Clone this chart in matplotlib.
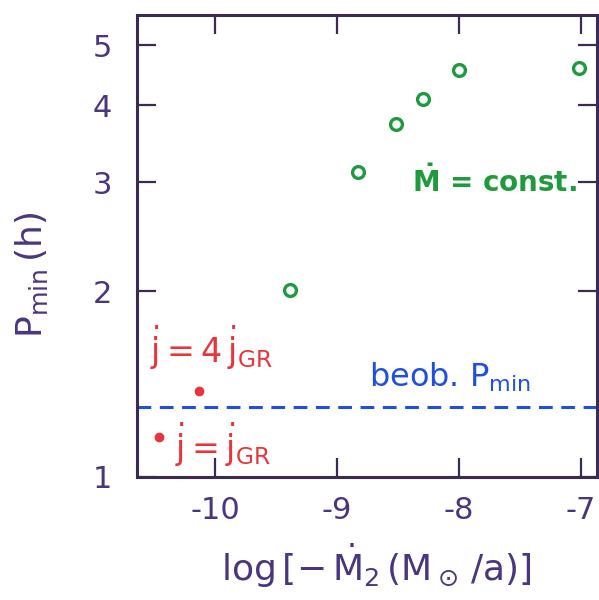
import matplotlib
matplotlib.use("Agg")
import matplotlib.pyplot as plt

# log(-dM2/dt) values and P_min in hours
mdot_const_x = [-9.39, -8.83, -8.52, -8.30, -8.00, -7.02]
mdot_const_p = [2.01, 3.12, 3.73, 4.09, 4.56, 4.59]
jdot_x = [-10.13, -10.46]          # j = 4 j_GR, j = j_GR
jdot_p = [1.38, 1.16]
p_min_obs = 1.30

xticks = [-10, -9, -8, -7]
xticklabels = ["-10", "-9", "-8", "-7"]
yticks = [1, 2, 3, 4, 5]

AX = "#3a2a55"; TXT = "#4a3580"; GREEN = "#1f9a3c"; RED = "#e8343a"; BLUE = "#1f4fe0"

fig = plt.figure(figsize=(5.99, 6.0), dpi=100)
ax = fig.add_axes([0.2287, 0.205, 0.768, 0.77])

ax.plot(mdot_const_x, mdot_const_p, "o", ms=8.5, mfc="none", mec=GREEN, mew=2.4)
ax.plot(jdot_x, jdot_p, "o", ms=6, mfc=RED, mec=RED)
ax.axhline(p_min_obs, color=BLUE, lw=2.2, dashes=(4.5, 2.8))

ax.set_yscale("log")
ax.set_xlim(-10.64, -6.87); ax.set_ylim(1, 5.6)
ax.set_yticks(yticks); ax.set_yticklabels([str(v) for v in yticks])
ax.yaxis.set_minor_locator(matplotlib.ticker.NullLocator())
ax.set_xticks(xticks); ax.set_xticklabels(xticklabels)
ax.tick_params(direction="in", length=14, width=1.6, color=AX, labelcolor=TXT,
               labelsize=22, top=True, right=True)
ax.tick_params(axis="y", pad=18); ax.tick_params(axis="x", pad=14)
for s in ax.spines.values():
    s.set_color(AX); s.set_linewidth(2.2)

ax.text(0.597, 0.638, r"$\mathregular{\dot{M}}$ = const.", transform=ax.transAxes,
        color=GREEN, fontsize=20, va="center", ha="left", fontweight="bold")
ax.text(0.505, 0.215, r"beob. P$_\mathregular{min}$", transform=ax.transAxes,
        color=BLUE, fontsize=23, va="center", ha="left")
ax.text(0.028, 0.279, r"$\mathregular{\dot{j} = 4\,\dot{j}_{GR}}$", transform=ax.transAxes,
        color=RED, fontsize=24, va="center", ha="left")
ax.text(0.082, 0.069, r"$\mathregular{\dot{j} = \dot{j}_{GR}}$", transform=ax.transAxes,
        color=RED, fontsize=24, va="center", ha="left")

fig.text(0.053, 0.542, r"$\mathregular{P_{min}\,(h)}$", rotation=90, color=TXT,
         fontsize=26, ha="center", va="center")
fig.text(0.628, 0.057, r"$\mathregular{log\,[-\,\dot{M}_2\,(M_\odot\,/a)]}$", color=TXT,
         fontsize=26, ha="center", va="center")

fig.savefig("out.png", dpi=100)
